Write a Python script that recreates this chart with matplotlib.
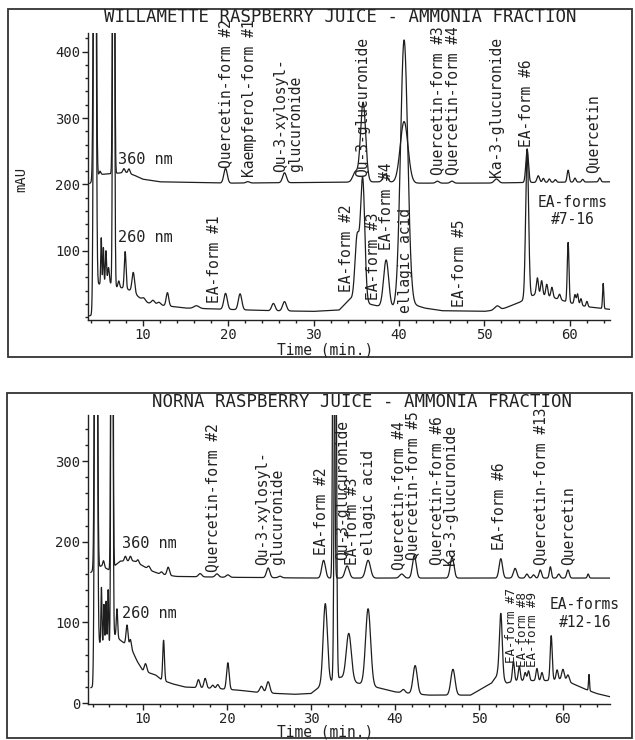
import numpy as np
import matplotlib.pyplot as plt
from matplotlib.patches import Rectangle
from matplotlib.ticker import MultipleLocator, FixedLocator

plt.rcParams['font.family'] = ['DejaVu Sans Mono', 'DejaVu Sans']

# ---- Willamette, 260 nm : peak table (time min, height mAU, sigma min) + baseline
will260_rt = [4.4, 5.15, 5.4, 5.7, 6.0, 6.6, 7.2, 7.95, 8.9, 10.1, 11.2, 11.9, 12.9, 16.3,
              19.7, 21.4, 25.3, 26.6, 35.1, 35.75, 38.5, 40.6, 51.5, 55.0, 56.2, 56.7,
              57.3, 57.9, 58.8, 59.8, 60.6, 60.9, 61.3, 62.0, 63.9]
will260_h = [1200, 70, 55, 50, 25, 1200, 10, 55, 30, 5, 6, 4, 20, 4,
             24, 24, 11, 14, 95, 185, 72, 400, 6, 225, 25, 22,
             18, 15, 8, 90, 14, 16, 10, 8, 38]
will260_w = [0.12, 0.06, 0.06, 0.07, 0.1, 0.09, 0.1, 0.1, 0.15, 0.2, 0.2, 0.2, 0.15, 0.3,
             0.2, 0.2, 0.2, 0.22, 0.25, 0.25, 0.3, 0.42, 0.3, 0.17, 0.12, 0.12,
             0.12, 0.12, 0.12, 0.1, 0.1, 0.1, 0.1, 0.1, 0.07]
will260_bt = [3.6, 4.1, 4.6, 6.3, 7.0, 8.0, 9.0, 10.0, 11.0, 13.0, 15.0, 20.0, 25.0, 30.0,
              33.0, 34.3, 36.5, 39.0, 41.5, 43.0, 45.0, 50.0, 52.0, 54.0, 56.0, 58.0,
              60.0, 62.0, 64.7]
will260_bv = [2, 3, 50, 50, 45, 44, 37, 25, 20, 17, 14, 12, 10, 9,
              11, 28, 20, 13, 20, 14, 10, 9, 12, 22, 35, 30,
              22, 16, 12]

# ---- Willamette, 360 nm
will360_rt = [4.4, 5.0, 6.6, 7.8, 8.4, 19.7, 22.3, 26.6, 34.9, 35.8, 38.4, 40.6, 44.5,
              46.2, 51.4, 55.0, 56.3, 56.9, 57.6, 58.3, 59.8, 60.6, 61.5, 63.5]
will360_h = [1200, 5, 1200, 6, 7, 22, 2, 15, 15, 120, 12, 92, 3,
             3, 6, 50, 10, 6, 5, 4, 18, 6, 4, 6]
will360_w = [0.12, 0.1, 0.09, 0.12, 0.12, 0.2, 0.2, 0.22, 0.3, 0.3, 0.25, 0.45, 0.2,
             0.2, 0.25, 0.15, 0.15, 0.12, 0.12, 0.12, 0.12, 0.12, 0.12, 0.12]
will360_bt = [3.6, 4.2, 5.0, 7.0, 8.0, 9.0, 10.0, 12.0, 20.0, 30.0, 38.0, 42.0, 50.0, 55.0, 64.7]
will360_bv = [200, 205, 215, 217, 218, 214, 208, 204, 202, 203, 204, 202, 202, 203, 204]

# ---- Norna, 260 nm
norna260_rt = [4.4, 5.05, 5.35, 5.6, 5.85, 6.3, 6.9, 8.1, 8.5, 10.3, 12.45, 16.6, 17.4,
               18.3, 18.9, 20.1, 24.1, 24.9, 31.7, 32.9, 34.5, 36.8, 41.0, 42.4, 46.9,
               52.6, 54.1, 54.8, 55.5, 55.9, 56.9, 57.5, 58.6, 59.3, 60.0, 60.6, 63.1]
norna260_h = [1200, 70, 50, 55, 70, 1200, 35, 25, 10, 10, 50, 10, 12,
              4, 5, 33, 8, 14, 100, 600, 58, 95, 4, 35, 32,
              80, 25, 18, 10, 12, 15, 10, 55, 12, 12, 8, 20]
norna260_w = [0.12, 0.06, 0.06, 0.06, 0.06, 0.09, 0.08, 0.12, 0.1, 0.15, 0.1, 0.15, 0.15,
              0.15, 0.15, 0.15, 0.2, 0.2, 0.25, 0.12, 0.3, 0.3, 0.2, 0.25, 0.25,
              0.17, 0.12, 0.12, 0.12, 0.12, 0.12, 0.12, 0.12, 0.12, 0.15, 0.15, 0.06]
norna260_bt = [3.5, 4.0, 4.6, 6.1, 6.6, 7.3, 8.6, 9.3, 10.0, 11.5, 12.2, 13.5, 15.0, 19.0,
               21.5, 24.0, 28.0, 30.0, 31.0, 33.5, 35.5, 38.5, 40.0, 44.0, 49.0, 51.5,
               52.2, 53.3, 54.5, 56.0, 58.0, 60.0, 61.0, 62.5, 64.0, 65.6]
norna260_bv = [18, 20, 75, 70, 85, 78, 68, 52, 40, 35, 29, 24, 20, 18,
               16, 13, 11, 12, 20, 32, 25, 18, 14, 10, 10, 25,
               35, 25, 28, 28, 28, 30, 25, 18, 12, 8]

# ---- Norna, 360 nm
norna360_rt = [4.4, 5.3, 6.3, 7.9, 8.5, 9.4, 10.7, 12.2, 13.0, 16.8, 18.8, 20.1, 24.9,
               26.3, 31.5, 32.7, 34.3, 36.8, 40.8, 42.3, 46.8, 52.6, 54.3, 55.7, 56.5,
               57.3, 58.5, 59.5, 60.6, 63.0]
norna360_h = [1200, 8, 1200, 6, 6, 4, 4, 3, 10, 4, 4, 3, 12,
              2, 22, 600, 15, 22, 5, 28, 26, 24, 12, 5, 4,
              10, 14, 5, 10, 5]
norna360_w = [0.12, 0.1, 0.09, 0.12, 0.12, 0.12, 0.15, 0.15, 0.15, 0.2, 0.2, 0.2, 0.2,
              0.2, 0.22, 0.1, 0.25, 0.28, 0.25, 0.22, 0.22, 0.2, 0.2, 0.15, 0.15,
              0.15, 0.12, 0.15, 0.15, 0.1]
norna360_bt = [3.5, 4.2, 5.0, 6.0, 7.3, 9.0, 10.0, 11.0, 12.0, 14.0, 20.0, 30.0, 65.6]
norna360_bv = [160, 165, 170, 165, 176, 176, 170, 164, 160, 157, 156, 155, 155]

# ---- annotations: (text, time, mAU at bottom of label)
will_labels = [("Quercetin-form #2", 19.7, 225), ("Kaempferol-form #1", 22.5, 211),
               ("Qu-3-xylosyl-\nglucuronide", 27.0, 219), ("Qu-3-glucuronide", 35.8, 211),
               ("Quercetin-form #3", 44.5, 214), ("Quercetin-form #4", 46.3, 214),
               ("Ka-3-glucuronide", 51.4, 211), ("EA-form #6", 54.96, 256),
               ("Quercetin", 62.7, 217), ("EA-form #1", 18.4, 22), ("EA-form #2", 33.8, 38),
               ("EA-form #3", 37.05, 26), ("EA-form #4", 38.5, 101),
               ("ellagic acid", 40.8, 7), ("EA-form #5", 47.1, 16)]
norna_labels = [("Quercetin-form #2", 18.3, 162), ("Qu-3-xylosyl-\nglucuronide", 25.1, 171),
                ("EA-form #2", 31.2, 183), ("Qu-3-glucuronide", 33.8, 177),
                ("EA-form #3", 35.0, 171), ("ellagic acid", 36.8, 183),
                ("Quercetin-form #4", 40.4, 165), ("Quercetin-form #5", 42.1, 177),
                ("Quercetin-form #6", 44.95, 171), ("Ka-3-glucuronide", 46.6, 171),
                ("EA-form #6", 52.5, 190), ("Quercetin-form #13", 57.3, 171),
                ("Quercetin", 60.6, 171)]
norna_small_labels = [("EA-form #7", 53.9, 50), ("EA-form #8", 55.2, 45), ("EA-form #9", 56.4, 45)]


def trace(t, rt, h, w, bt, bv):
    y = np.interp(t, bt, bv)
    for c, a, s in zip(rt, h, w):
        y = y + a * np.exp(-0.5 * ((t - c) / s) ** 2)
    return y


def setup(ax, xlim, ylim, yticks):
    ax.set_xlim(*xlim)
    ax.set_ylim(*ylim)
    for s in ['top', 'right']:
        ax.spines[s].set_visible(False)
    for s in ['left', 'bottom']:
        ax.spines[s].set_linewidth(1.0)
        ax.spines[s].set_color('#222222')
    ax.xaxis.set_major_locator(MultipleLocator(10))
    ax.xaxis.set_minor_locator(MultipleLocator(2))
    ax.yaxis.set_major_locator(FixedLocator(yticks))
    ax.yaxis.set_minor_locator(MultipleLocator(20))
    ax.tick_params(which='major', length=4, width=1, pad=1.5, labelsize=10, colors='#222222')
    ax.tick_params(which='minor', length=2.5, width=1, colors='#222222')
    ax.set_facecolor('none')


fig = plt.figure(figsize=(6.35, 7.4), dpi=100)
ax1 = fig.add_axes([88 / 635, 420 / 740, 522 / 635, 287 / 740])
ax2 = fig.add_axes([88 / 635, 36 / 740, 522 / 635, 289 / 740])

t1 = np.linspace(3.8, 64.7, 4000)
t2 = np.linspace(3.8, 65.6, 4000)
lc = '#1e1e1e'
ax1.plot(t1, trace(t1, will360_rt, will360_h, will360_w, will360_bt, will360_bv), color=lc, lw=0.9)
ax1.plot(t1, trace(t1, will260_rt, will260_h, will260_w, will260_bt, will260_bv), color=lc, lw=0.9)
ax2.plot(t2, trace(t2, norna360_rt, norna360_h, norna360_w, norna360_bt, norna360_bv), color=lc, lw=0.9)
ax2.plot(t2, trace(t2, norna260_rt, norna260_h, norna260_w, norna260_bt, norna260_bv), color=lc, lw=0.9)

setup(ax1, (3.6, 64.7), (-4, 428), [100, 200, 300, 400])
setup(ax2, (3.45, 65.6), (-1, 357), [0, 100, 200, 300])

for ax, labels, fs in [(ax1, will_labels, 10.5), (ax2, norna_labels, 10.5), (ax2, norna_small_labels, 9)]:
    for txt, x, y in labels:
        ax.text(x, y, txt, rotation=90, ha='center', va='bottom', multialignment='left',
                fontsize=fs, color='#222222', clip_on=False, linespacing=1.0)

ax1.text(7.06, 237, "360 nm", fontsize=11, va='center', ha='left', color='#222222')
ax1.text(7.06, 120, "260 nm", fontsize=11, va='center', ha='left', color='#222222')
ax1.text(60.3, 160, "EA-forms\n#7-16", fontsize=10.5, ha='center', va='center', color='#222222')
ax2.text(7.5, 198, "360 nm", fontsize=11, va='center', ha='left', color='#222222')
ax2.text(7.5, 111, "260 nm", fontsize=11, va='center', ha='left', color='#222222')
ax2.text(62.6, 111, "EA-forms\n#12-16", fontsize=10.5, ha='center', va='center', color='#222222')

fig.text(340 / 635, 1 - 17 / 740, "WILLAMETTE RASPBERRY JUICE - AMMONIA FRACTION",
         fontsize=12.5, ha='center', va='center', color='#222222')
fig.text(362 / 635, 1 - 402 / 740, "NORNA RASPBERRY JUICE - AMMONIA FRACTION",
         fontsize=12.5, ha='center', va='center', color='#222222')
fig.text(325 / 635, 1 - 350 / 740, "Time (min.)", fontsize=10.5, ha='center', va='center', color='#222222')
fig.text(325 / 635, 1 - 732 / 740, "Time (min.)", fontsize=10.5, ha='center', va='center', color='#222222')
fig.text(21 / 635, 1 - 179 / 740, "mAU", fontsize=10, rotation=90, ha='center', va='center', color='#222222')

fig.add_artist(Rectangle((8 / 635, 1 - 357 / 740), 624 / 635, 348 / 740, transform=fig.transFigure,
                         fill=False, lw=1.3, ec='#333333'))
fig.add_artist(Rectangle((7 / 635, 1 - 738 / 740), 625 / 635, 345 / 740, transform=fig.transFigure,
                         fill=False, lw=1.3, ec='#333333'))

fig.savefig('out.png', dpi=100, facecolor='white')
